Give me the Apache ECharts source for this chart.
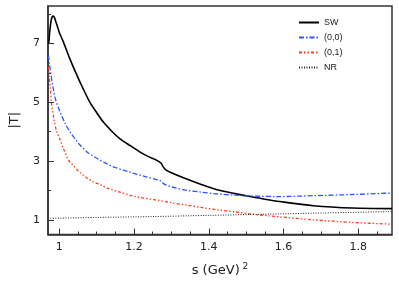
<!DOCTYPE html>
<html><head><meta charset="utf-8">
<script src="https://cdn.jsdelivr.net/npm/echarts@6/dist/echarts.min.js"></script>
<style>html,body{margin:0;padding:0;background:#fff}#c{width:399px;height:282px}</style>
</head><body><div id="c"></div>
<script>
// SW curve
const swS = [0.972,0.975,0.978,0.981,0.984,0.987,0.990,0.995,1.0,1.011,1.028,1.041,1.055,1.081,1.10,1.117,1.14,1.161,1.19,1.214,1.24,1.258,1.272,1.278,1.285,1.30,1.334,1.38,1.422,1.47,1.511,1.55,1.59,1.68,1.785,1.89];
const swT = [7.0,7.45,7.75,7.9,7.93,7.88,7.77,7.58,7.38,7.05,6.49,6.1,5.70,5.02,4.65,4.34,4.02,3.77,3.52,3.32,3.14,3.04,2.93,2.80,2.70,2.60,2.42,2.20,2.02,1.89,1.79,1.70,1.62,1.48,1.40,1.38];
// (0,0) curve
const c00S = [0.971,0.976,0.984,0.990,1.002,1.015,1.028,1.041,1.055,1.075,1.099,1.12,1.143,1.174,1.197,1.23,1.263,1.272,1.28,1.30,1.334,1.38,1.422,1.47,1.511,1.59,1.68,1.785,1.89];
const c00T = [6.6,6.1,5.47,5.1,4.68,4.3,4.0,3.78,3.55,3.3,3.10,2.95,2.81,2.68,2.59,2.47,2.36,2.32,2.22,2.12,2.02,1.94,1.88,1.84,1.81,1.79,1.82,1.86,1.91];
// (0,1) curve
const c01S = [0.971,0.976,0.980,0.987,0.993,1.0,1.011,1.024,1.037,1.052,1.066,1.09,1.114,1.13,1.16,1.201,1.245,1.267,1.3,1.334,1.38,1.422,1.47,1.511,1.564,1.59,1.679,1.785,1.89];
const c01T = [6.2,5.5,4.9,4.35,4.0,3.8,3.43,3.05,2.85,2.65,2.5,2.3,2.17,2.07,1.95,1.80,1.70,1.66,1.58,1.51,1.42,1.34,1.27,1.20,1.13,1.10,1.00,0.91,0.85];
// NR curve
const nrS = [0.97,1.1,1.25,1.4,1.55,1.7,1.89];
const nrT = [1.05,1.08,1.11,1.15,1.19,1.23,1.28];

const xMajor = [1,1.2,1.4,1.6,1.8];
const xMinor = [1.05,1.1,1.15,1.25,1.3,1.35,1.45,1.5,1.55,1.65,1.7,1.75,1.85];
const yMajor = [1,3,5,7];
const yMinor = [2,4,6,8];

const zip = (a,b) => a.map((v,i) => [v,b[i]]);
const axisCol = '#333';
const font = 'DejaVu Sans';

const chart = echarts.init(document.getElementById('c'), null, {renderer:'canvas'});
chart.setOption({
  animation:false,
  backgroundColor:'#fff',
  grid:{left:47,right:7,top:6,bottom:47,show:true,borderColor:axisCol,borderWidth:1.5,backgroundColor:'transparent'},
  legend:{
    left:293, top:13, orient:'vertical', itemWidth:20, itemHeight:10, itemGap:6,
    itemStyle:{opacity:0, borderWidth:0},
    textStyle:{fontFamily:'Liberation Sans', fontSize:9, color:'#222'},
    data:['SW','(0,0)','(0,1)','NR']
  },
  xAxis:[{
    type:'value', min:0.97, max:1.89, gridIndex:0, position:'bottom',
    axisLine:{show:true, lineStyle:{color:axisCol,width:1.5}},
    axisTick:{show:true, inside:true, length:6, customValues:xMajor, lineStyle:{color:axisCol,width:1}},
    axisLabel:{show:true, customValues:xMajor, margin:7, fontFamily:font, fontSize:11, color:'#222',
      formatter:v => String(+(+v).toFixed(1))},
    splitLine:{show:false},
    name:'{a|s (GeV)}{b| 2}', nameLocation:'middle', nameGap:28,
    nameTextStyle:{rich:{
      a:{fontFamily:font,fontSize:13,color:'#222',lineHeight:16},
      b:{fontFamily:font,fontSize:9,color:'#222',verticalAlign:'top',lineHeight:16}
    }}
  },{
    type:'value', min:0.97, max:1.89, gridIndex:0, position:'bottom', offset:0,
    axisLine:{show:false},
    axisTick:{show:true, inside:true, length:3, customValues:xMinor, lineStyle:{color:axisCol,width:1}},
    axisLabel:{show:false},
    splitLine:{show:false}
  }],
  yAxis:[{
    type:'value', min:0.5, max:8.27, gridIndex:0, position:'left',
    axisLine:{show:true, lineStyle:{color:axisCol,width:1.5}},
    axisTick:{show:true, inside:true, length:6, customValues:yMajor, lineStyle:{color:axisCol,width:1}},
    axisLabel:{show:true, customValues:yMajor, margin:8, fontFamily:font, fontSize:11, color:'#222'},
    splitLine:{show:false},
    name:'|T|', nameLocation:'middle', nameGap:27, nameRotate:90,
    nameTextStyle:{fontFamily:font,fontSize:13,color:'#222'}
  },{
    type:'value', min:0.5, max:8.27, gridIndex:0, position:'left', offset:0,
    axisLine:{show:false},
    axisTick:{show:true, inside:true, length:3, customValues:yMinor, lineStyle:{color:axisCol,width:1}},
    axisLabel:{show:false},
    splitLine:{show:false}
  }],
  series:[
    {name:'SW', type:'line', symbol:'none', smooth:0.3, data:zip(swS,swT),
      lineStyle:{color:'#000',width:1.6,type:'solid'}, itemStyle:{color:'#000'}},
    {name:'(0,0)', type:'line', symbol:'none', smooth:0.3, data:zip(c00S,c00T),
      lineStyle:{color:'#2a55ff',width:1.3,type:[5,2,1.5,2]}, itemStyle:{color:'#2a55ff'}},
    {name:'(0,1)', type:'line', symbol:'none', smooth:0.3, data:zip(c01S,c01T),
      lineStyle:{color:'#ff3a1e',width:1.3,type:[3,2,1.5,2,1.5,2]}, itemStyle:{color:'#ff3a1e'}},
    {name:'NR', type:'line', symbol:'none', smooth:0.3, data:zip(nrS,nrT),
      lineStyle:{color:'#222',width:1,type:[1,1.5]}, itemStyle:{color:'#222'}}
  ]
});
</script></body></html>
